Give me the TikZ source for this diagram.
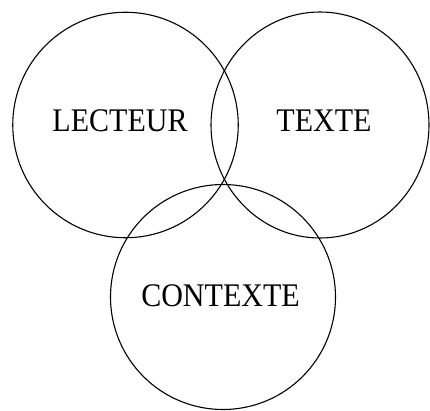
\documentclass[tikz,border=0pt]{standalone}
\usepackage{fontspec}
\setmainfont{Liberation Serif}
\newfontfamily\vennfont[FakeStretch=0.91]{Liberation Serif}
\usepackage{tikz}
\usetikzlibrary{shapes.geometric}

\begin{document}
\begin{tikzpicture}[x=1pt, y=1pt,
  vennset/.style={draw=black, line width=1.1pt, inner sep=0pt},
  vennlabel/.style={font=\vennfont\fontsize{33}{36}\selectfont, anchor=base, inner sep=0pt}]
  \useasboundingbox (0,0) rectangle (430,410);

  % Circle 1
  \node[vennset, circle, minimum size=225.5pt] (lecteur) at (125.5,285) {};
  \node[vennlabel] (lecteurlabel) at (120,278) {LECTEUR};

  % Circle 2
  \node[vennset, ellipse, minimum width=218pt, minimum height=226pt] (texte) at (320,285) {};
  \node[vennlabel] (textelabel) at (324,278) {TEXTE};

  % Circle 3
  \node[vennset, circle, minimum size=225pt] (contexte) at (223,113) {};
  \node[vennlabel] (contextelabel) at (220.5,104) {CONTEXTE};
\end{tikzpicture}
\end{document}
